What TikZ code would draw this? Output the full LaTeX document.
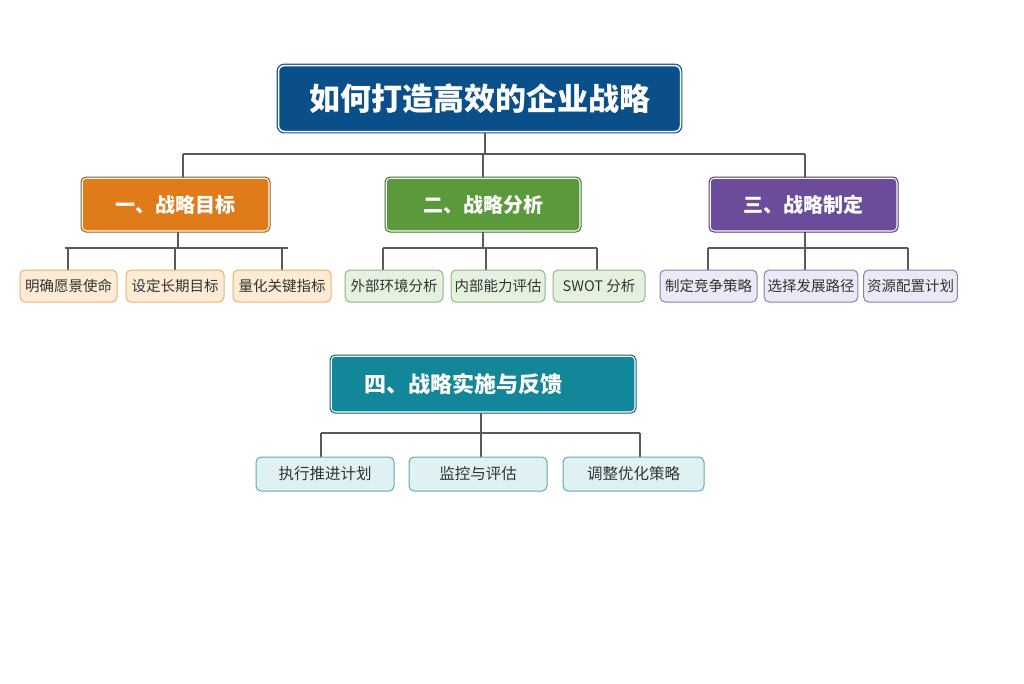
\documentclass[tikz,border=0pt]{standalone}
\usepackage{fontspec}
\setmainfont{Noto Sans CJK SC}
\begin{document}
\begin{tikzpicture}[x=1pt,y=-1pt,
 ln/.style={draw=black!65,line width=1.6pt},
 leaf/.style={rounded corners=5pt,line width=1pt,text=black!80,font=\fontsize{14.5}{16}\selectfont},
 cat/.style={rounded corners=4pt,draw=white,line width=1.5pt,text=white,font=\bfseries\fontsize{20}{24}\selectfont}]
\useasboundingbox (0,0) rectangle (1024,683);
\definecolor{tb}{HTML}{0B4F8A}\definecolor{co}{HTML}{E07B1A}\definecolor{cg}{HTML}{5A9A3A}
\definecolor{cp}{HTML}{6B4C9A}\definecolor{ct}{HTML}{13879A}
\coordinate (tj) at (485,154);
\draw[ln] (485,133) -- (tj); \draw[ln] (183,154) -- (805,154);
\draw[ln] (183,154)--(183,178); \draw[ln] (483,154)--(483,178); \draw[ln] (805,154)--(805,178);
\foreach \c/\a/\b/\l/\m/\r in {178/65/288/68/175/282, 483/383/597/383/486/597, 805/708/908/708/805/908}{
 \draw[ln] (\c,231)--(\c,248); \draw[ln] (\a,248)--(\b,248);
 \draw[ln] (\l,248)--(\l,270); \draw[ln] (\m,248)--(\m,270); \draw[ln] (\r,248)--(\r,270);}
\draw[ln] (481,412)--(481,433); \draw[ln] (321,433)--(640,433);
\draw[ln] (321,433)--(321,457); \draw[ln] (481,433)--(481,457); \draw[ln] (640,433)--(640,457);
\node[draw=tb,double=white,double distance=1.5pt,fill=tb,rounded corners=6pt,line width=1.2pt,minimum width=402pt,minimum height=66pt,text=white,font=\bfseries\fontsize{31}{36}\selectfont] (t) at (479.5,98.5) {如何打造高效的企业战略};
\node[cat,fill=co,minimum width=187pt,minimum height=53pt] (c1) at (175.5,204.5) {一、战略目标};
\node[cat,fill=cg,minimum width=194pt,minimum height=53pt] (c2) at (483,204.5) {二、战略分析};
\node[cat,fill=cp,minimum width=187pt,minimum height=53pt] (c3) at (803.5,204.5) {三、战略制定};
\node[cat,fill=ct,minimum width=304pt,minimum height=56pt,font=\bfseries\fontsize{22}{26}\selectfont] (c4) at (483,384) {\hspace*{-40pt}四、战略实施与反馈};
\draw[co!70!black,line width=1pt,rounded corners=5pt] (81,177) rectangle (270,232);
\draw[cg!70!black,line width=1pt,rounded corners=5pt] (385,177) rectangle (581,232);
\draw[cp!70!black,line width=1pt,rounded corners=5pt] (709,177) rectangle (898,232);
\draw[ct!70!black,line width=1pt,rounded corners=5pt] (330,355) rectangle (636,413);
\definecolor{fo}{HTML}{FDEBD3}\definecolor{bo}{HTML}{E8B070}
\definecolor{fg}{HTML}{E4F1DF}\definecolor{bg}{HTML}{8EB585}
\definecolor{fp}{HTML}{ECE8F5}\definecolor{bp}{HTML}{8E7DB0}
\definecolor{ft}{HTML}{DFF1F3}\definecolor{bt}{HTML}{5FA9B3}
\foreach \n/\x/\w/\f/\b/\s in {a1/68.5/97/fo/bo/明确愿景使命, a2/175/98/fo/bo/设定长期目标, a3/282/98/fo/bo/量化关键指标,
 b1/394/98/fg/bg/外部环境分析, b2/498/94/fg/bg/内部能力评估, b3/599/92/fg/bg/SWOT 分析,
 p1/708.5/97/fp/bp/制定竞争策略, p2/811/92/fp/bp/选择发展路径, p3/910.5/93/fp/bp/资源配置计划}
 \node[leaf,fill=\f,draw=\b,minimum width=\w pt,minimum height=32pt] (\n) at (\x,286) {\s};
\foreach \n/\x/\w/\s in {d1/325/138/执行推进计划, d2/478/138/监控与评估, d3/633.5/141/调整优化策略}
 \node[leaf,fill=ft,draw=bt,minimum width=\w pt,minimum height=34pt,font=\fontsize{15.5}{18}\selectfont] (\n) at (\x,474) {\s};
\end{tikzpicture}
\end{document}
